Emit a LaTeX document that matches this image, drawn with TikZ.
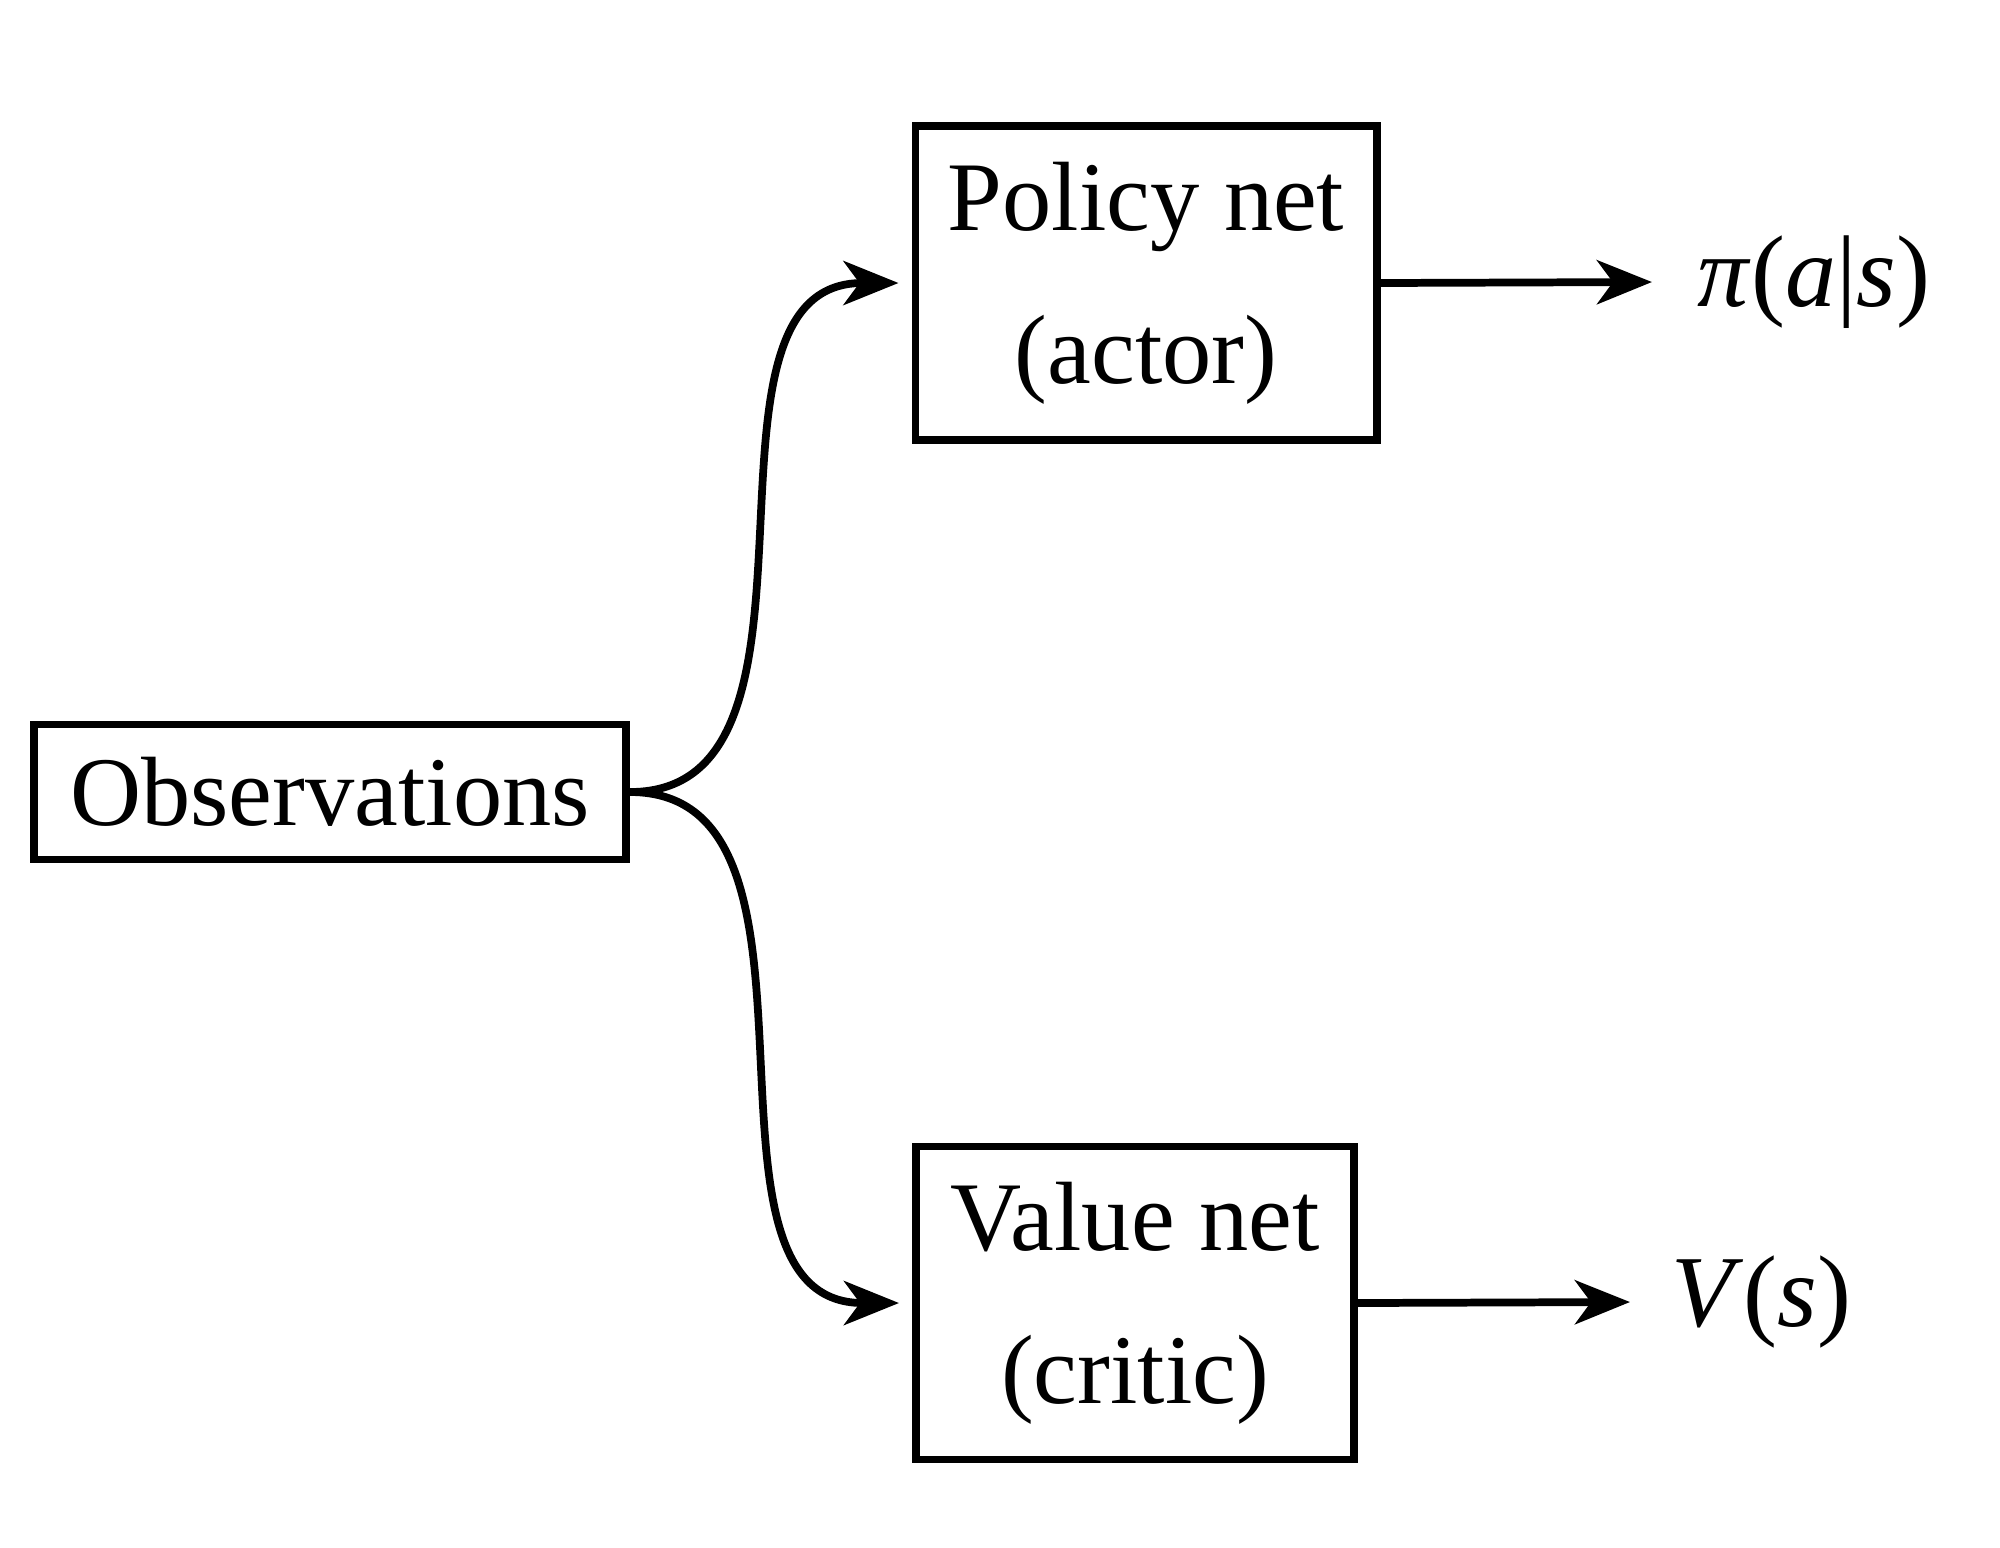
\documentclass[tikz,border=0pt]{standalone}
\usepackage{fontspec}
\setmainfont{Liberation Serif}
\usetikzlibrary{arrows.meta}
\begin{document}
\begin{tikzpicture}[x=0.01cm,y=-0.01cm,
  box/.style={draw, line width=2.2pt, align=center, inner sep=0pt, font=\fontsize{28}{43.5}\selectfont},
  conn/.style={line width=2.2pt, -{Stealth[length=0.55cm,width=0.44cm,inset=0.16cm]}},
  lab/.style={anchor=west, inner sep=0pt, font=\fontsize{29}{35}\selectfont}]
\useasboundingbox (0,0) rectangle (2000,1547);
\node[box, minimum width=5.92cm, minimum height=1.35cm] (obs) at (330,792) {Observations};
\node[box, minimum width=4.61cm, minimum height=3.14cm] (pol) at (1146,283) {Policy net\\(actor)};
\node[box, minimum width=4.38cm, minimum height=3.13cm] (val) at (1135,1303) {Value net\\(critic)};
\node[lab] (pi) at (1697,282) {\textit{π}(\textit{a}|\textit{s})};
\node[lab] (vs) at (1671,1302) {\textit{V}(\textit{s})};
\draw[conn] (obs.east) to[out=0,in=180] ([xshift=-0.13cm]pol.west);
\draw[conn] (obs.east) to[out=0,in=180] ([xshift=-0.13cm]val.west);
\draw[conn] (pol.east) -- ([xshift=-0.45cm]pi.west);
\draw[conn] (val.east) -- ([xshift=-0.41cm]vs.west);
\end{tikzpicture}
\end{document}
